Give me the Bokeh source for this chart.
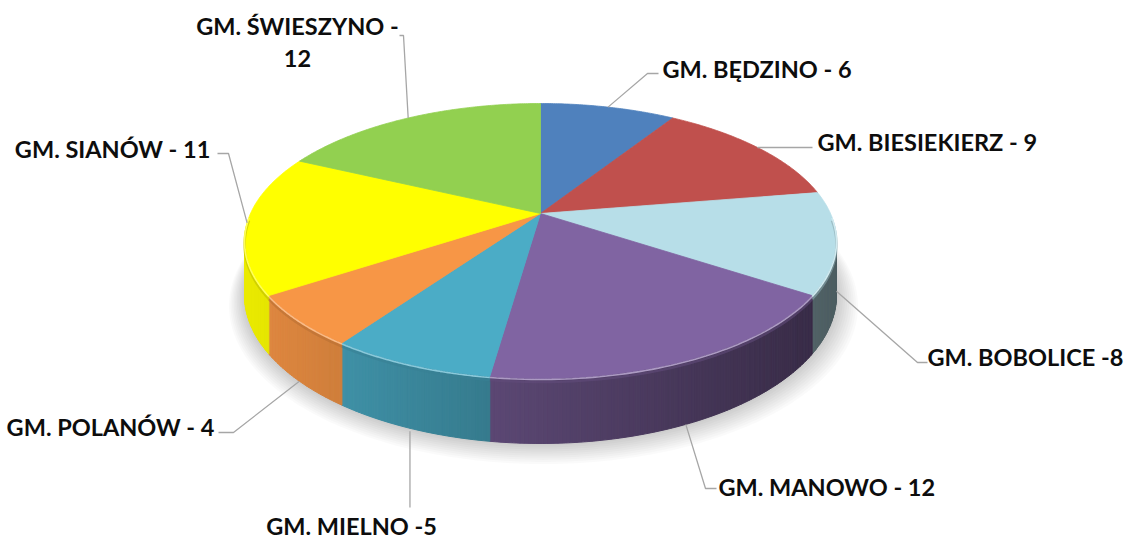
import numpy as np
from bokeh.plotting import figure
from bokeh.models import Range1d
from bokeh.core.properties import value
from bokeh.embed import file_html
from bokeh.resources import INLINE

# ---------------- data ----------------
names = ["GM. BĘDZINO", "GM. BIESIEKIERZ", "GM. BOBOLICE", "GM. MANOWO",
         "GM. MIELNO", "GM. POLANÓW", "GM. SIANÓW", "GM. ŚWIESZYNO"]
values = [6, 9, 8, 12, 5, 4, 11, 12]
label_texts = ["GM. BĘDZINO - 6", "GM. BIESIEKIERZ - 9", "GM. BOBOLICE -8",
               "GM. MANOWO - 12", "GM. MIELNO -5", "GM. POLANÓW - 4",
               "GM. SIANÓW - 11", "GM. ŚWIESZYNO -\n12"]
colors = ["#4F81BD", "#C0504D", "#B7DEE8", "#8064A2",
          "#4BACC6", "#F79646", "#FFFF00", "#92D050"]

# ---------------- geometry (layout) ----------------
CX, CY = 540.0, 213.0      # pie apex on screen
A, B, K, H = 290.0, 132.0, 0.2, 52.0   # radii, perspective, depth


def proj(theta_deg, z=0.0, r=1.0):
    t = np.radians(theta_deg)
    u = r * np.sin(t)
    v = r * np.cos(t)
    w = 1.0 + K * v
    return CX + A * u / w, CY - B * v / w + H * z / w


def hex2rgb(h):
    h = h.lstrip("#")
    return np.array([int(h[i:i + 2], 16) for i in (0, 2, 4)], dtype=float)


def rgb2hex(c):
    c = np.clip(np.round(c), 0, 255).astype(int)
    return "#%02x%02x%02x" % tuple(c)


total = float(sum(values))
cum = np.concatenate([[0.0], np.cumsum(values)]) / total * 360.0

W, Hh = 1125, 542
p = figure(width=W, height=Hh, output_backend="svg", toolbar_location=None,
           x_range=Range1d(0, W), y_range=Range1d(Hh, 0),
           x_axis_type=None, y_axis_type=None, min_border=0)
p.outline_line_color = None
p.grid.visible = False
p.background_fill_color = "#FFFFFF"
p.border_fill_color = "#FFFFFF"

# ---- soft shadow under the pie ----
th_all = np.linspace(0, 360, 361)
for d in range(10, 0, -1):
    sx, sy = proj(th_all, z=1.0, r=1.0 + d * 0.006)
    p.patch(sx + d * 0.3, sy + d * 0.7, fill_color="#000000", fill_alpha=0.018,
            line_color=None)

# ---- side walls (only the visible front part) ----
vis_lo = np.degrees(np.arccos(-K))          # ~101.5
vis_hi = 360.0 - vis_lo                      # ~258.5
xs_w, ys_w, cs_w = [], [], []
for i, col in enumerate(colors):
    a0, a1 = cum[i], cum[i + 1]
    lo, hi = max(a0, vis_lo), min(a1, vis_hi)
    if hi <= lo:
        continue
    n = max(2, int((hi - lo) / 0.6) + 1)
    th = np.linspace(lo, hi, n)
    tx, ty = proj(th, 0.0)
    bx, by = proj(th, 1.0)
    base = hex2rgb(col)
    for j in range(n - 1):
        xm = 0.5 * (tx[j] + tx[j + 1])
        f = 0.92 - 0.5 * (xm - 244.0) / 592.0
        xs_w.append([tx[j], tx[j + 1], bx[j + 1], bx[j]])
        ys_w.append([ty[j], ty[j + 1], by[j + 1], by[j]])
        cs_w.append(rgb2hex(base * f))
p.patches(xs_w, ys_w, fill_color=cs_w, line_color=cs_w, line_width=1)

# ---- top faces ----
xs_t, ys_t = [], []
for i in range(len(values)):
    th = np.linspace(cum[i], cum[i + 1], max(3, int((cum[i + 1] - cum[i]) / 0.5)))
    ax, ay = proj(th, 0.0)
    xs_t.append(np.concatenate([[CX], ax]))
    ys_t.append(np.concatenate([[CY], ay]))
p.patches(xs_t, ys_t, fill_color=colors, line_color=colors, line_width=0.8)

# ---- bevel highlight on the front rim ----
for i, col in enumerate(colors):
    lo, hi = max(cum[i], vis_lo - 10), min(cum[i + 1], vis_hi + 10)
    if hi <= lo:
        continue
    th = np.linspace(lo, hi, 60)
    ex, ey = proj(th, 0.0)
    base = hex2rgb(col)
    p.line(ex, ey + 3.5, line_color=rgb2hex(base * 0.75), line_width=2.5, line_alpha=0.6)
    p.line(ex, ey + 1.0, line_color=rgb2hex(base + (255 - base) * 0.35), line_width=1.6)

# ---- labels and leader lines ----
LEAD = "#A6A6A6"
FONT = value("Lato")
FS = "23.5px"
mids = 0.5 * (cum[:-1] + cum[1:])
# per label: depth fraction of anchor, elbow point, end of horizontal, text x, text y, align
layout = [
    (0.0, (647, 73), (658, 73), 662, 68, "left"),
    (0.0, (757, 147), (812, 147), 817, 141, "left"),
    (0.9, (917, 362), (927, 362), 927, 356, "left"),
    (1.0, (705, 488), (716, 488), 718, 486, "left"),
    (1.0, None, None, 351, 525, "center"),
    (1.0, (233, 432), (218, 432), 214, 426, "right"),
    (0.0, (228, 153), (217, 153), 210, 148, "right"),
    (0.0, (403, 35), (399, 35), 297, 25, "center"),
]
for i, (zf, elbow, end, tx, ty, al) in enumerate(layout):
    axp, ayp = proj(mids[i], zf)
    axp, ayp = float(axp), float(ayp)
    if elbow is None:
        lx = [axp, axp]
        ly = [ayp + 3, 507]
    else:
        lx = [axp, elbow[0], end[0]]
        ly = [ayp, elbow[1], end[1]]
    p.line(lx, ly, line_color=LEAD, line_width=1.3)
    lines = label_texts[i].split("\n")
    for k, t in enumerate(lines):
        p.text([tx], [ty + k * 33], text=[t], text_align=al, text_baseline="middle",
               text_font=FONT, text_font_style="bold", text_font_size=FS,
               text_color="#0D0D0D")

open("out.html", "w").write(file_html(p, INLINE))
